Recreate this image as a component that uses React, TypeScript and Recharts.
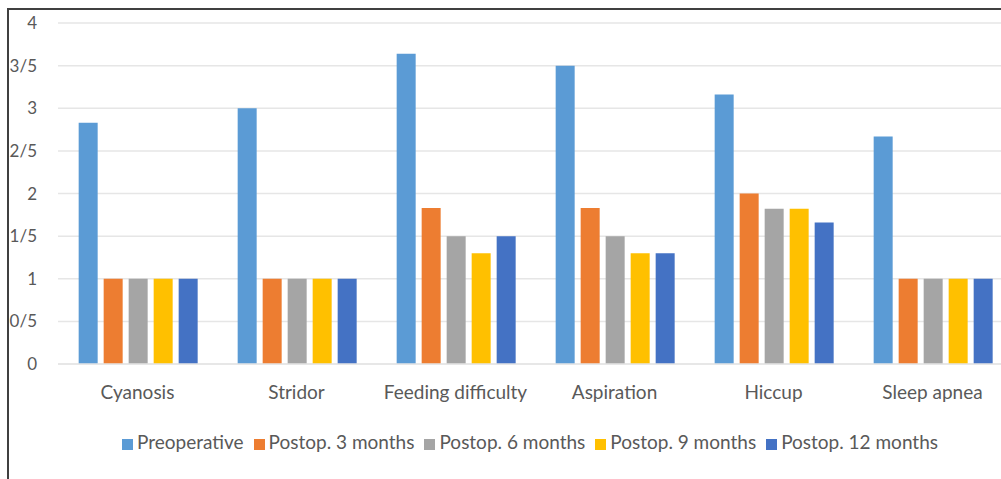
import { BarChart, Bar, XAxis, YAxis, CartesianGrid, Legend } from "recharts";

const categories = [
  "Cyanosis",
  "Stridor",
  "Feeding difficulty",
  "Aspiration",
  "Hiccup",
  "Sleep apnea",
];

const preoperative = [2.83, 3, 3.64, 3.5, 3.16, 2.67];
const postop3 = [1, 1, 1.83, 1.83, 2, 1];
const postop6 = [1, 1, 1.5, 1.5, 1.82, 1];
const postop9 = [1, 1, 1.3, 1.3, 1.82, 1];
const postop12 = [1, 1, 1.5, 1.3, 1.66, 1];

const yTicks = [0, 0.5, 1, 1.5, 2, 2.5, 3, 3.5, 4];
const yTickLabels = ["0", "0/5", "1", "1/5", "2", "2/5", "3", "3/5", "4"];

const series = [
  { key: "pre", name: "Preoperative", color: "#5b9bd5" },
  { key: "m3", name: "Postop. 3 months", color: "#ed7d31" },
  { key: "m6", name: "Postop. 6 months", color: "#a5a5a5" },
  { key: "m9", name: "Postop. 9 months", color: "#ffc000" },
  { key: "m12", name: "Postop. 12 months", color: "#4472c4" },
];

const data = categories.map((name, i) => ({
  name,
  pre: preoperative[i],
  m3: postop3[i],
  m6: postop6[i],
  m9: postop9[i],
  m12: postop12[i],
}));

const FONT = "Lato, 'DejaVu Sans', sans-serif";
const TEXT = "#595959";
const SIZE = 19;

export default function App() {
  return (
    <div
      style={{
        position: "fixed",
        left: 0,
        top: 0,
        width: 1001,
        height: 479,
        overflow: "hidden",
        background: "#fff",
        fontFamily: FONT,
      }}
    >
      <div
        style={{
          position: "absolute",
          left: 7,
          top: 8,
          width: 1100,
          height: 600,
          borderTop: "2px solid #404040",
          borderLeft: "2px solid #404040",
        }}
      />
      <div style={{ position: "absolute", left: 0, top: 0 }}>
        <BarChart
          width={1020}
          height={479}
          data={data}
          margin={{ top: 23, right: 8, left: 0, bottom: 26 }}
          barCategoryGap="13%"
          barGap={6}
        >
          <CartesianGrid vertical={false} stroke="#e6e6e6" strokeWidth={1.5} />
          <XAxis
            dataKey="name"
            height={66}
            axisLine={{ stroke: "#e6e6e6", strokeWidth: 1.5 }}
            tickLine={false}
            tickSize={0}
            tickMargin={22}
            tick={{ fill: TEXT, fontSize: SIZE, fontFamily: FONT }}
            interval={0}
          />
          <YAxis
            width={58}
            domain={[0, 4]}
            ticks={yTicks}
            tickFormatter={(v: number) => yTickLabels[yTicks.indexOf(v)] ?? String(v)}
            axisLine={false}
            tickLine={false}
            tickSize={0}
            tickMargin={21}
            tick={{ fill: TEXT, fontSize: 17, fontFamily: FONT }}
          />
          <Legend
            verticalAlign="bottom"
            iconType="square"
            iconSize={11}
            itemSorter={null}
            wrapperStyle={{ left: 29, fontSize: SIZE, fontFamily: FONT, color: TEXT }}
            formatter={(value) => <span style={{ color: TEXT }}>{value}</span>}
          />
          {series.map((s) => (
            <Bar
              key={s.key}
              dataKey={s.key}
              name={s.name}
              fill={s.color}
              isAnimationActive={false}
            />
          ))}
        </BarChart>
      </div>
    </div>
  );
}
